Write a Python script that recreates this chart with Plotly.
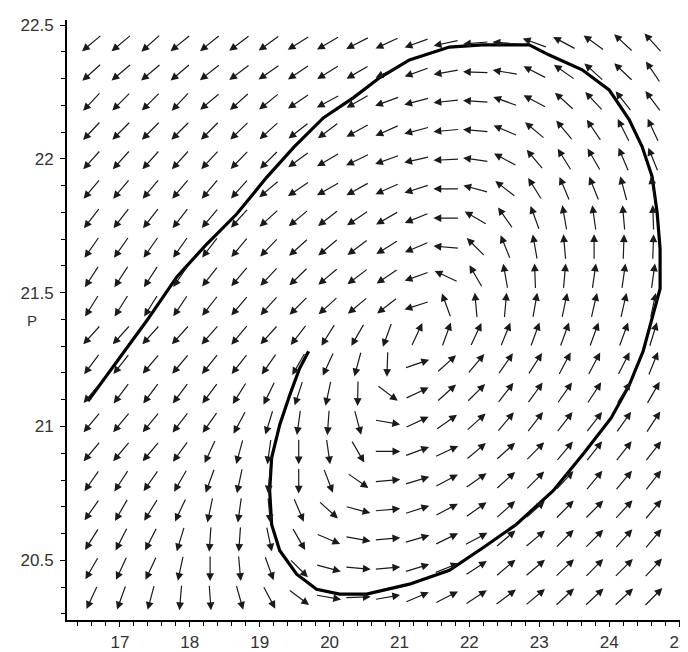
import numpy as np
import plotly.graph_objects as go

# ---- grid of direction-field arrows (centres, data units) ----
x_grid = np.linspace(16.6, 24.63, 20)
y_grid = np.linspace(22.433, 20.362, 20)   # top row first

# arrow directions, degrees (0 = east, 90 = north), rows top -> bottom
angles = [
    [220, 220, 222, 219, 219, 217, 216, 212, 210, 207, 205, 200, 192, 185, 175, 160, 152, 144, 137, 132],
    [222, 220, 220, 220, 218, 217, 215, 214, 212, 210, 205, 200, 190, 178, 170, 153, 145, 138, 137, 124],
    [227, 225, 225, 227, 220, 222, 219, 214, 208, 210, 200, 195, 186, 176, 160, 152, 138, 133, 128, 127],
    [227, 225, 225, 225, 225, 224, 222, 218, 217, 209, 204, 195, 185, 175, 157, 140, 130, 124, 117, 115],
    [228, 228, 228, 228, 227, 226, 225, 216, 210, 206, 200, 193, 183, 172, 152, 130, 122, 120, 113, 112],
    [230, 230, 230, 230, 230, 228, 220, 214, 210, 209, 204, 198, 180, 165, 142, 122, 113, 112, 105, 100],
    [232, 232, 232, 232, 230, 228, 222, 220, 218, 214, 210, 202, 180, 150, 125, 110, 100, 98, 95, 92],
    [235, 235, 235, 235, 232, 230, 226, 222, 220, 217, 212, 203, 175, 135, 112, 100, 95, 90, 88, 88],
    [237, 237, 237, 235, 232, 230, 227, 224, 220, 217, 214, 200, 155, 120, 100, 92, 85, 82, 82, 82],
    [238, 238, 238, 236, 232, 230, 228, 225, 222, 220, 218, 198, 110, 95, 85, 80, 78, 77, 77, 78],
    [228, 228, 228, 228, 229, 230, 228, 232, 238, 240, 250, 65, 70, 65, 68, 70, 70, 70, 70, 73],
    [233, 232, 230, 230, 231, 232, 235, 240, 245, 255, 268, 19, 42, 50, 55, 57, 62, 62, 63, 68],
    [230, 233, 233, 233, 233, 238, 244, 252, 258, 269, 323, 25, 42, 45, 52, 54, 55, 57, 58, 60],
    [230, 230, 230, 232, 235, 242, 253, 262, 266, 285, 350, 25, 35, 42, 50, 52, 52, 52, 55, 57],
    [230, 230, 230, 234, 245, 255, 262, 270, 278, 300, 0, 20, 25, 40, 42, 45, 50, 52, 52, 52],
    [235, 237, 235, 240, 250, 258, 265, 270, 291, 325, 5, 17, 28, 35, 42, 45, 47, 50, 50, 52],
    [235, 240, 238, 245, 258, 262, 275, 293, 318, 345, 5, 18, 28, 35, 42, 42, 45, 45, 47, 50],
    [238, 243, 243, 253, 266, 266, 282, 300, 337, 350, 5, 16, 26, 28, 40, 40, 45, 45, 48, 50],
    [240, 245, 245, 258, 270, 275, 290, 315, 345, 355, 5, 17, 22, 33, 40, 40, 43, 45, 45, 47],
    [245, 250, 255, 265, 274, 286, 298, 323, 350, 2, 10, 23, 27, 33, 37, 40, 43, 43, 43, 45],
]

# ---- solution curve ----
traj_x = [16.543, 17.386, 17.814, 18.243, 18.671, 19.1, 19.486, 19.914, 20.343, 20.714,
          21.143, 21.714, 22.186, 22.857, 23.143, 23.614, 24.0, 24.286, 24.471, 24.614,
          24.686, 24.729, 24.729, 24.6, 24.486, 24.286, 24.029, 23.643, 23.2, 22.671,
          22.2, 21.714, 21.143, 20.529, 20.143, 19.814, 19.529, 19.286, 19.171, 19.143,
          19.171, 19.286, 19.429, 19.571, 19.7]
traj_y = [21.095, 21.396, 21.559, 21.682, 21.794, 21.931, 22.043, 22.154, 22.229, 22.303,
          22.370, 22.418, 22.426, 22.426, 22.388, 22.333, 22.258, 22.147, 22.046, 21.935,
          21.801, 21.664, 21.515, 21.396, 21.281, 21.154, 21.032, 20.902, 20.760, 20.634,
          20.548, 20.463, 20.411, 20.374, 20.374, 20.392, 20.448, 20.537, 20.634, 20.760,
          20.883, 21.006, 21.117, 21.217, 21.281]

x_ticks = [17, 18, 19, 20, 21, 22, 23, 24, 25]
y_ticks = [20.5, 21, 21.5, 22, 22.5]
y_tick_text = ["20.5", "21", "21.5", "22", "22.5"]

X_RANGE = [16.243, 25.114]
Y_RANGE = [20.277, 22.519]
# the page body adds an 8px margin, so the figure is 8px smaller each way
W, H = 680, 644
M = dict(l=59, r=0, t=12, b=29)
px_x = (W - M["l"] - M["r"]) / (X_RANGE[1] - X_RANGE[0])
px_y = (H - M["t"] - M["b"]) / (Y_RANGE[1] - Y_RANGE[0])
L = 26  # arrow length in pixels

fig = go.Figure()
fig.add_trace(go.Scatter(x=traj_x, y=traj_y, mode="lines",
                         line=dict(color="black", width=3.2), hoverinfo="skip",
                         showlegend=False))

annotations = []
for r, yv in enumerate(y_grid):
    for c, xv in enumerate(x_grid):
        th = np.deg2rad(angles[r][c])
        cx, sy = np.cos(th), np.sin(th)
        hx = xv + (L / 2) * cx / px_x
        hy = yv + (L / 2) * sy / px_y
        annotations.append(dict(
            x=float(hx), y=float(hy), xref="x", yref="y",
            ax=float(-L * cx), ay=float(L * sy),
            text="", showarrow=True, arrowhead=2, arrowsize=1.3,
            arrowwidth=1.2, arrowcolor="#1a1a1a", standoff=0, startstandoff=0))

annotations.append(dict(x=-0.056, y=21.396, xref="paper", yref="y", text="P",
                        showarrow=False, font=dict(size=15, color="#333"),
                        xanchor="center", yanchor="middle"))

font = dict(family="Liberation Sans, Arial, sans-serif", size=17, color="#333")
fig.update_layout(
    width=W, height=H, margin=M,
    paper_bgcolor="white", plot_bgcolor="white",
    font=font, annotations=annotations, showlegend=False,
    xaxis=dict(range=X_RANGE, tickvals=x_ticks, ticktext=[str(t) for t in x_ticks],
               showgrid=False, zeroline=False, showline=True, linecolor="black",
               linewidth=2, ticks="outside", ticklen=5, tickcolor="black",
               ticklabeloverflow="allow", ticklabelstandoff=1,
               minor=dict(dtick=0.2, tick0=17, ticks="outside", ticklen=4, tickcolor="black")),
    yaxis=dict(range=Y_RANGE, tickvals=y_ticks, ticktext=y_tick_text,
               showgrid=False, zeroline=False, showline=True, linecolor="black",
               linewidth=2, ticks="outside", ticklen=5, tickcolor="black",
               ticklabeloverflow="allow", ticklabelstandoff=3,
               minor=dict(dtick=0.1, tick0=20.5, ticks="outside", ticklen=4, tickcolor="black")),
)

fig.write_html("out.html")
